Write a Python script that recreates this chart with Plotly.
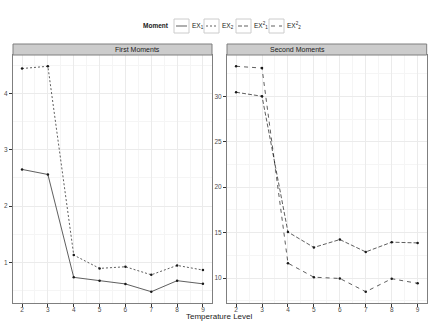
import plotly.graph_objects as go
from plotly.subplots import make_subplots

# Temperaturstufen
temp_level = [2, 3, 4, 5, 6, 7, 8, 9]

# erste Momente
ex1 = [2.65, 2.56, 0.735, 0.676, 0.618, 0.48, 0.676, 0.62]
ex2 = [4.44, 4.48, 1.13, 0.894, 0.923, 0.78, 0.947, 0.864]

# zweite Momente
ex1_sq = [30.44, 30.0, 15.07, 13.37, 14.24, 12.88, 13.95, 13.87]
ex2_sq = [33.3, 33.1, 11.64, 10.1, 9.96, 8.5, 9.93, 9.42]

moment_names = ["EX<sub>1</sub>", "EX<sub>2</sub>",
                "EX<sup>2</sup><sub>1</sub>", "EX<sup>2</sup><sub>2</sub>"]
panel_titles = ["First Moments", "Second Moments"]
x_title = "Temperature Level"
legend_title = "Moment"

W, H = 436, 329
font = "Liberation Sans"
dashes = ["solid", "2px,2px", "4px,2px", "4px,4px"]

fig = make_subplots(rows=1, cols=2)

def px_x(p):
    return p / W

def px_y(p):
    return 1 - p / H

top, bottom, strip_top = 55, 303, 44
dom_left = [px_x(13), px_x(212)]
dom_right = [px_x(227), px_x(426.7)]
dom_y = [px_y(bottom), px_y(top)]

for vals, name, dash, col in zip([ex1, ex2, ex1_sq, ex2_sq], moment_names, dashes, [1, 1, 2, 2]):
    fig.add_trace(go.Scatter(
        x=temp_level, y=vals, name=name, mode="lines+markers",
        line=dict(color="#1a1a1a", width=0.7, dash=dash),
        marker=dict(color="#1a1a1a", size=2.5),
    ), row=1, col=col)

grid_major = "#ebebeb"
grid_minor = "#f5f5f5"
axis_common = dict(
    showline=True, linecolor="#7f7f7f", linewidth=1, mirror=True,
    ticks="outside", ticklen=3, tickcolor="#333333", tickwidth=1,
    gridcolor=grid_major, gridwidth=1, zeroline=False,
    tickfont=dict(family=font, size=6.5, color="#4d4d4d"),
    automargin=False,
)

fig.update_xaxes(**axis_common, range=[1.65, 9.35], dtick=1, tick0=0, ticklabelstandoff=-3,
                 minor=dict(dtick=0.5, tick0=0, showgrid=True, gridcolor=grid_minor, ticks=""))
fig.update_xaxes(domain=dom_left, row=1, col=1)
fig.update_xaxes(domain=dom_right, row=1, col=2)
fig.update_yaxes(**axis_common, domain=dom_y)
fig.update_yaxes(range=[0.28, 4.68], dtick=1, tick0=0,
                 minor=dict(dtick=0.5, tick0=0, showgrid=True, gridcolor=grid_minor, ticks=""),
                 row=1, col=1)
fig.update_yaxes(range=[7.26, 34.54], dtick=5, tick0=0,
                 minor=dict(dtick=2.5, tick0=0, showgrid=True, gridcolor=grid_minor, ticks=""),
                 row=1, col=2)

# Streifen über den Panels
for dom, title in zip([dom_left, dom_right], panel_titles):
    fig.add_shape(type="rect", xref="paper", yref="paper",
                  x0=dom[0], x1=dom[1], y0=px_y(top), y1=px_y(strip_top),
                  fillcolor="#cccccc", line=dict(color="#7f7f7f", width=1))
    fig.add_annotation(text=title, xref="paper", yref="paper",
                       x=(dom[0] + dom[1]) / 2, y=px_y((top + strip_top) / 2),
                       yanchor="middle", showarrow=False,
                       font=dict(family=font, size=7, color="#1a1a1a"))

fig.add_annotation(text=x_title, xref="paper", yref="paper",
                   x=px_x(219), y=px_y(316), yanchor="middle", showarrow=False,
                   font=dict(family=font, size=8, color="#1a1a1a"))

# Legende oben (wie ggplot, mit Kästchen)
leg_y = 26
box_x = [174, 204, 236, 269]
fig.add_annotation(text="<b>" + legend_title + "</b>", xref="paper", yref="paper",
                   x=px_x(171), xanchor="right", y=px_y(leg_y), yanchor="middle",
                   showarrow=False, font=dict(family=font, size=6.5, color="#1a1a1a"))
for x0, name, dash in zip(box_x, moment_names, dashes):
    fig.add_shape(type="rect", xref="paper", yref="paper",
                  x0=px_x(x0), x1=px_x(x0 + 15), y0=px_y(leg_y + 7), y1=px_y(leg_y - 7),
                  fillcolor="white", line=dict(color="#cccccc", width=1))
    fig.add_shape(type="line", xref="paper", yref="paper",
                  x0=px_x(x0 + 2), x1=px_x(x0 + 13), y0=px_y(leg_y), y1=px_y(leg_y),
                  line=dict(color="#1a1a1a", width=0.7, dash=dash))
    fig.add_annotation(text=name, xref="paper", yref="paper",
                       x=px_x(x0 + 16), xanchor="left", y=px_y(leg_y), yanchor="middle",
                       showarrow=False, font=dict(family=font, size=6.5, color="#1a1a1a"))

fig.update_layout(
    width=W, height=H,
    margin=dict(l=0, r=0, t=0, b=0),
    paper_bgcolor="white", plot_bgcolor="white",
    showlegend=False,
)

fig.write_html("out.html", config={"displayModeBar": False},
               post_script="document.body.style.margin='0px';")
